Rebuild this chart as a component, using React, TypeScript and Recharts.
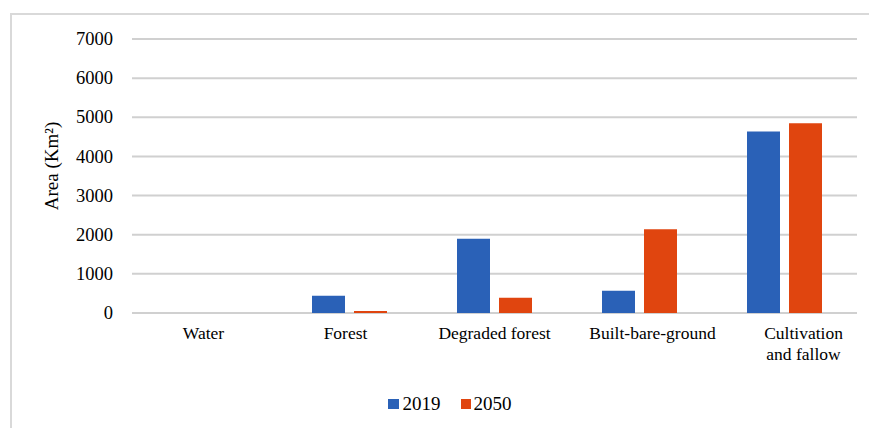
import React from 'react';
import { BarChart, Bar, XAxis, YAxis, CartesianGrid, Legend } from 'recharts';

const categories = ['Water', 'Forest', 'Degraded forest', 'Built-bare-ground', 'Cultivation and fallow'];
const tickLines = [['Water'], ['Forest'], ['Degraded forest'], ['Built-bare-ground'], ['Cultivation', 'and fallow']];
const values2019 = [0, 440, 1900, 570, 4640];
const values2050 = [0, 50, 390, 2140, 4850];
const yTicks = [0, 1000, 2000, 3000, 4000, 5000, 6000, 7000];

const data = categories.map((c, i) => ({ name: c, y2019: values2019[i], y2050: values2050[i] }));

// layout-only horizontal nudges of category labels (as in the original)
const tickNudge = [-1, -4, 0, 13, 19];

const FONT = 'Liberation Serif';
const BLUE = '#2a61b7';
const ORANGE = '#e0450f';
const xStyle = { fontFamily: FONT, fontSize: 17.5 };
const yStyle = { fontFamily: FONT, fontSize: 18.5 };

const XTick = (props: any) => {
  const { x, y, payload } = props;
  const idx = categories.indexOf(payload.value);
  const lines = idx >= 0 ? tickLines[idx] : [String(payload.value)];
  const dx = idx >= 0 ? tickNudge[idx] : 0;
  return (
    <g>
      {lines.map((l, i) => (
        <text key={i} x={x + dx} y={y + 18 + i * 21} textAnchor="middle" fill="#000" style={xStyle}>
          {l}
        </text>
      ))}
    </g>
  );
};

const YTick = (props: any) => {
  const { x, y, payload } = props;
  return (
    <text x={x} y={y} dy="0.33em" textAnchor="end" fill="#000" style={yStyle}>
      {payload.value}
    </text>
  );
};

const YLabel = () => (
  <text x={0} y={0} transform="translate(58,166) rotate(-90)" textAnchor="middle" fill="#000" style={{ fontFamily: FONT, fontSize: 19 }}>
    Area (Km²)
  </text>
);

const LegendContent = () => (
  <div style={{ display: 'flex', justifyContent: 'center', alignItems: 'center', fontFamily: FONT, fontSize: 19, color: '#000', paddingTop: 0, paddingLeft: 42 }}>
    <span style={{ display: 'inline-block', width: 11, height: 10, background: BLUE, marginRight: 4 }} />
    <span style={{ marginRight: 20, fontFamily: FONT, fontSize: 19 }}>2019</span>
    <span style={{ display: 'inline-block', width: 10, height: 10, background: ORANGE, marginRight: 3 }} />
    <span style={{ fontFamily: FONT, fontSize: 19 }}>2050</span>
  </div>
);

export default function App() {
  return (
    <div style={{ position: 'absolute', left: 0, top: 0, width: 869, height: 428, background: '#fff', overflow: 'hidden' }}>
      <div style={{ position: 'absolute', left: 10, top: 13, width: 859, height: 415, borderLeft: '2px solid #d9d9d9', borderTop: '2px solid #d9d9d9', boxSizing: 'border-box' }} />
      <div style={{ position: 'absolute', left: 0, top: 0 }}>
        <BarChart width={869} height={428} data={data} margin={{ top: 39, right: 12, left: 0, bottom: 0 }} barSize={33} barGap={9}>
          <CartesianGrid vertical={false} stroke="#d0d0d0" strokeWidth={2} />
          <XAxis dataKey="name" axisLine={false} tickLine={false} tick={<XTick />} height={80} interval={0} />
          <YAxis
            width={132}
            domain={[0, 7000]}
            ticks={yTicks}
            axisLine={false}
            tickLine={false}
            tickSize={6}
            tickMargin={13}
            tick={<YTick />}
            label={<YLabel />}
          />
          <Legend verticalAlign="bottom" height={35} content={<LegendContent />} />
          <Bar dataKey="y2019" fill={BLUE} isAnimationActive={false} />
          <Bar dataKey="y2050" fill={ORANGE} isAnimationActive={false} />
        </BarChart>
      </div>
    </div>
  );
}
